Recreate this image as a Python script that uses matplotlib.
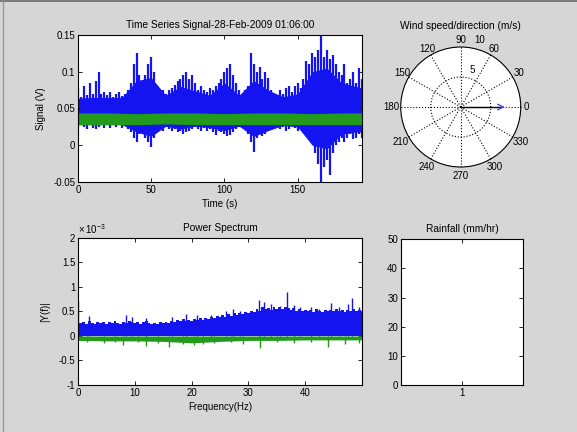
import numpy as np
import matplotlib.pyplot as plt
from matplotlib.lines import Line2D

plt.rcParams['font.family'] = ['Liberation Sans', 'DejaVu Sans']
plt.rcParams['font.size'] = 7
plt.rcParams['mathtext.fontset'] = 'custom'
plt.rcParams['mathtext.rm'] = 'Liberation Sans'

BLUE = '#1414f0'
GREEN = '#239a1c'
BG = '#d6d6d6'

ts_time = np.arange(0, 196, 2)
ts_upper = [
    0.078, 0.066, 0.080, 0.068, 0.085, 0.070, 0.088, 0.100, 0.070, 0.072,
    0.068, 0.072, 0.066, 0.070, 0.072, 0.067, 0.070, 0.075, 0.085, 0.110,
    0.125, 0.095, 0.085, 0.095, 0.110, 0.120, 0.100, 0.080, 0.070, 0.075,
    0.070, 0.075, 0.078, 0.082, 0.087, 0.090, 0.095, 0.099, 0.090, 0.096,
    0.085, 0.075, 0.080, 0.075, 0.072, 0.078, 0.075, 0.080, 0.085, 0.090,
    0.100, 0.105, 0.111, 0.095, 0.085, 0.075, 0.070, 0.075, 0.080, 0.125,
    0.110, 0.100, 0.107, 0.090, 0.100, 0.091, 0.075, 0.070, 0.068, 0.075,
    0.070, 0.078, 0.080, 0.072, 0.080, 0.085, 0.078, 0.090, 0.114, 0.110,
    0.125, 0.120, 0.130, 0.150, 0.120, 0.130, 0.118, 0.123, 0.110, 0.100,
    0.095, 0.110, 0.085, 0.090, 0.100, 0.085, 0.105, 0.090]
ts_lower = [
    0.022, 0.027, 0.025, 0.022, 0.027, 0.024, 0.022, 0.025, 0.027, 0.024,
    0.027, 0.023, 0.027, 0.025, 0.027, 0.024, 0.027, 0.022, 0.018, 0.010,
    0.005, 0.015, 0.020, 0.010, 0.005, -0.003, 0.010, 0.020, 0.024, 0.020,
    0.025, 0.022, 0.020, 0.022, 0.018, 0.020, 0.015, 0.018, 0.020, 0.022,
    0.025, 0.022, 0.020, 0.024, 0.020, 0.022, 0.018, 0.014, 0.020, 0.018,
    0.015, 0.012, 0.014, 0.018, 0.022, 0.025, 0.027, 0.022, 0.015, 0.005,
    -0.009, 0.010, 0.015, 0.012, 0.015, 0.020, 0.022, 0.025, 0.027, 0.022,
    0.025, 0.020, 0.022, 0.027, 0.024, 0.020, 0.025, 0.018, 0.015, 0.010,
    0.005, -0.010, -0.025, -0.050, -0.030, -0.020, -0.040, -0.010, 0.000, 0.005,
    0.010, 0.005, 0.010, 0.015, 0.008, 0.010, 0.015, 0.010]
# solid core of the blue band, every 10 s
core_t = [0, 10, 20, 30, 40, 50, 60, 70, 80, 90, 100, 110, 120, 130, 140, 150, 160, 170, 180, 190, 194]
core_top = [0.064, 0.065, 0.065, 0.065, 0.088, 0.092, 0.068, 0.080, 0.074, 0.068, 0.085,
            0.068, 0.088, 0.075, 0.066, 0.070, 0.100, 0.105, 0.085, 0.080, 0.078]
core_bot = [0.028, 0.028, 0.028, 0.028, 0.018, 0.012, 0.026, 0.022, 0.026, 0.024, 0.020,
            0.026, 0.012, 0.020, 0.027, 0.025, 0.000, -0.005, 0.015, 0.018, 0.018]
green_t = [0, 20, 40, 60, 80, 100, 120, 140, 160, 180, 194]
green_top = [0.044, 0.044, 0.043, 0.044, 0.044, 0.043, 0.044, 0.044, 0.043, 0.044, 0.044]
green_bot = [0.028, 0.028, 0.028, 0.029, 0.028, 0.028, 0.028, 0.028, 0.028, 0.028, 0.028]

# power spectrum (units of 1e-3), every 0.5 Hz
ps_freq = np.arange(0, 50.5, 0.5)
ps_blue_top = [
    0.30, 0.26, 0.29, 0.25, 0.31, 0.27, 0.24, 0.28, 0.26, 0.29,
    0.25, 0.28, 0.26, 0.30, 0.27, 0.24, 0.29, 0.27, 0.31, 0.28,
    0.26, 0.29, 0.25, 0.28, 0.30, 0.26, 0.24, 0.27, 0.25, 0.28,
    0.26, 0.29, 0.27, 0.31, 0.28, 0.33, 0.30, 0.34, 0.31, 0.33,
    0.30, 0.34, 0.32, 0.36, 0.33, 0.37, 0.35, 0.39, 0.36, 0.40,
    0.38, 0.42, 0.39, 0.44, 0.41, 0.46, 0.43, 0.47, 0.44, 0.48,
    0.46, 0.50, 0.48, 0.55, 0.52, 0.60, 0.56, 0.58, 0.54, 0.60,
    0.56, 0.59, 0.55, 0.60, 0.57, 0.54, 0.58, 0.52, 0.55, 0.50,
    0.54, 0.50, 0.53, 0.49, 0.55, 0.51, 0.48, 0.53, 0.50, 0.54,
    0.51, 0.55, 0.50, 0.53, 0.49, 0.54, 0.52, 0.56, 0.50, 0.53,
    0.48]
spike_f = [0, 2, 8.5, 9.5, 12, 16.5, 19, 21, 23.5, 26, 27.3, 28.5, 31.8, 32.8, 34,
           35.5, 36.8, 38, 39, 41, 42.5, 44.5, 46, 47.5, 48.3, 49.5]
spike_v = [0.72, 0.40, 0.42, 0.38, 0.36, 0.38, 0.45, 0.42, 0.43, 0.50, 0.56, 0.50, 0.73, 0.70, 0.66,
           0.62, 0.90, 0.63, 0.60, 0.60, 0.56, 0.68, 0.60, 0.66, 0.77, 0.60]
green_f = [0, 5, 10, 15, 20, 25, 30, 35, 40, 45, 50]
ps_green_bot = [-0.09, -0.10, -0.10, -0.11, -0.14, -0.11, -0.09, -0.09, -0.08, -0.08, -0.08]
gspike_f = [1.5, 4.5, 6.5, 8, 10.5, 12, 14, 16, 18.5, 20.5, 22, 24, 27, 29, 32, 35, 38, 41, 44, 47, 49.5]
gspike_v = [-0.12, -0.14, -0.13, -0.18, -0.13, -0.20, -0.14, -0.23, -0.17, -0.18, -0.17, -0.14,
            -0.13, -0.17, -0.25, -0.13, -0.15, -0.13, -0.22, -0.16, -0.15]

# wind and rain
wind_speed = [7.8]
wind_dir = [0]
rain_x = [1]
rain = [0]
compass_angles = list(range(0, 360, 30))


def matlab_style(ax):
    ax.set_facecolor('white')
    ax.tick_params(direction='in', top=True, right=True, length=3, width=0.6,
                   pad=2, labelsize=7)
    for s in ax.spines.values():
        s.set_linewidth(0.8)
        s.set_zorder(5)


fig = plt.figure(figsize=(5.77, 4.32), dpi=100, facecolor=BG)

# time series
ax1 = fig.add_axes([0.1352, 0.5787, 0.4922, 0.3403])
matlab_style(ax1)
ax1.fill_between(core_t, core_bot, core_top, color=BLUE, lw=0, zorder=1)
ax1.vlines(ts_time, ts_lower, ts_upper, color=BLUE, lw=1.6, zorder=2)
ax1.fill_between(green_t, green_bot, green_top, color=GREEN, lw=0, zorder=3)
ax1.set_xlim(0, 194)
ax1.set_ylim(-0.05, 0.15)
ax1.set_xticks([0, 50, 100, 150])
ax1.set_yticks([-0.05, 0, 0.05, 0.1, 0.15])
ax1.set_yticklabels(['-0.05', '0', '0.05', '0.1', '0.15'])
ax1.set_title('Time Series Signal-28-Feb-2009 01:06:00', fontsize=7.3, pad=5)
ax1.set_xlabel('Time (s)', labelpad=3)
ax1.set_ylabel('Signal (V)', labelpad=5)

# power spectrum
ax3 = fig.add_axes([0.1352, 0.1088, 0.4922, 0.3403])
matlab_style(ax3)
ax3.fill_between(ps_freq, 0, ps_blue_top, step='mid', color=BLUE, lw=0, zorder=1)
ax3.vlines(spike_f, 0, spike_v, color=BLUE, lw=1, zorder=2)
ax3.fill_between(green_f, ps_green_bot, 0, color=GREEN, lw=0, zorder=3)
ax3.vlines(gspike_f, 0, gspike_v, color=GREEN, lw=1, zorder=3)
ax3.set_xlim(0, 50)
ax3.set_ylim(-1, 2)
ax3.set_xticks([0, 10, 20, 30, 40])
ax3.set_yticks([-1, -0.5, 0, 0.5, 1, 1.5, 2])
ax3.set_yticklabels(['-1', '-0.5', '0', '0.5', '1', '1.5', '2'])
ax3.text(0, 1.015, r'$\times\,10^{-3}$', transform=ax3.transAxes, ha='left',
         va='bottom', fontsize=7)
ax3.set_title('Power Spectrum', fontsize=7.3, pad=5)
ax3.set_xlabel('Frequency(Hz)', labelpad=3)
ax3.set_ylabel('|Y(f)|', labelpad=6)

# wind compass
ax2 = fig.add_axes([0.6945, 0.6134, 0.208, 0.2778], projection='polar')
ax2.set_facecolor('white')
ax2.set_ylim(0, 10)
ax2.set_rticks([5])
ax2.set_yticklabels([])
ax2.set_thetagrids(compass_angles, labels=[''] * len(compass_angles))
ax2.tick_params(axis='x', length=0)
ax2.grid(True, color='k', ls=':', lw=0.8)
ax2.spines['polar'].set_linewidth(0.8)
for a in compass_angles:
    r_lab = 11.2 if 0 < a < 180 else 11.5
    if a == 0:
        r_lab = 11.0
    ax2.text(np.deg2rad(a), r_lab, str(a), ha='center', va='center',
             fontsize=7, clip_on=False)
ax2.text(np.deg2rad(73), 6.5, '5', ha='center', va='center', fontsize=7)
ax2.text(np.deg2rad(74), 11.7, '10', ha='center', va='center', fontsize=7,
         clip_on=False)
for d, s in zip(wind_dir, wind_speed):
    th = np.deg2rad(d)
    ax2.plot([th, th], [0, s * 0.85], color='k', lw=1)
    ax2.annotate('', xy=(th, s), xytext=(th, s * 0.8),
                 arrowprops=dict(arrowstyle='->', color='#4a4ad0', lw=1,
                                 mutation_scale=10))
ax2.set_title('Wind speed/direction (m/s)', fontsize=7.3, pad=13)

# rainfall
ax4 = fig.add_axes([0.6945, 0.1088, 0.2125, 0.3373])
matlab_style(ax4)
ax4.bar(rain_x, rain, width=0.8, color='#00007f')
ax4.set_xlim(0.5, 1.5)
ax4.set_ylim(0, 50)
ax4.set_xticks([1])
ax4.set_yticks([0, 10, 20, 30, 40, 50])
ax4.set_title('Rainfall (mm/hr)', fontsize=7.3, pad=5)

# window frame edges
fig.add_artist(Line2D([0, 1], [0.997, 0.997], color='#6a6a6a', lw=1.2,
                      transform=fig.transFigure))
fig.add_artist(Line2D([0.0045, 0.0045], [0, 0.997], color='#9a9a9a', lw=1.0,
                      transform=fig.transFigure))

fig.savefig('out.png', dpi=100, facecolor=BG)
